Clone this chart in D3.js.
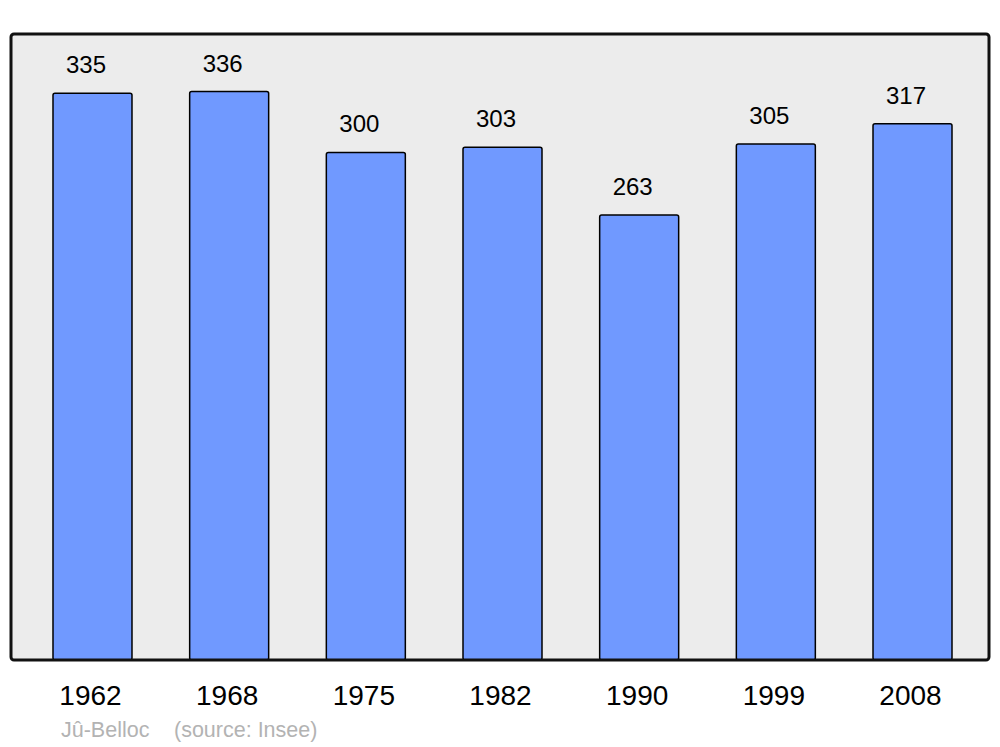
<!DOCTYPE html>
<html>
<head>
<meta charset="utf-8">
<script src="https://cdn.jsdelivr.net/npm/d3@7"></script>
<style>
  html, body { margin: 0; padding: 0; background: #ffffff; }
  svg { display: block; }
</style>
</head>
<body>
<svg id="chart" width="1000" height="747"></svg>
<script>
const years = ["1962", "1968", "1975", "1982", "1990", "1999", "2008"];
const population = [335, 336, 300, 303, 263, 305, 317];
const sourceLabels = ["Jû-Belloc", "(source: Insee)"];

const svg = d3.select("#chart");
const font = "'Liberation Sans', Arial, sans-serif";

const panel = { x0: 11, x1: 989, y0: 34, y1: 660 };

const x = d3.scaleBand()
  .domain(years)
  .range([13.5, 991.5])
  .paddingInner(0.422)
  .paddingOuter(0.289);

const y = d3.scaleLinear()
  .domain([0, 370])
  .range([panel.y1, panel.y0]);

// background panel
svg.append("rect")
  .attr("x", panel.x0)
  .attr("y", panel.y0)
  .attr("width", panel.x1 - panel.x0)
  .attr("height", panel.y1 - panel.y0)
  .attr("rx", 3)
  .attr("fill", "#ececec")
  .attr("stroke", "none");

const data = years.map((yr, i) => ({ year: yr, value: population[i] }));

// bars
svg.append("g").selectAll("rect")
  .data(data)
  .join("rect")
  .attr("x", d => x(d.year))
  .attr("y", d => y(d.value))
  .attr("width", x.bandwidth())
  .attr("height", d => y(0) - y(d.value))
  .attr("rx", 2)
  .attr("fill", "#7099ff")
  .attr("stroke", "#000")
  .attr("stroke-width", 1.5);

// panel border on top
svg.append("rect")
  .attr("x", panel.x0)
  .attr("y", panel.y0)
  .attr("width", panel.x1 - panel.x0)
  .attr("height", panel.y1 - panel.y0)
  .attr("rx", 3)
  .attr("fill", "none")
  .attr("stroke", "#111")
  .attr("stroke-width", 3);

// value labels (slightly left of bar centre, as in the original)
svg.append("g").selectAll("text")
  .data(data)
  .join("text")
  .attr("x", d => x(d.year) + x.bandwidth() / 2 - 6.5)
  .attr("y", d => y(d.value) - 20)
  .attr("text-anchor", "middle")
  .attr("font-family", font)
  .attr("font-size", 24)
  .attr("fill", "#000")
  .text(d => d.value);

// year axis labels
const xAxis = d3.axisBottom(x).tickSize(0).tickPadding(0);
const gx = svg.append("g")
  .attr("transform", `translate(-2, ${panel.y1})`)
  .call(xAxis);
gx.select(".domain").remove();
gx.selectAll("text")
  .attr("y", 45)
  .attr("dy", 0)
  .attr("font-family", font)
  .attr("font-size", 28)
  .attr("fill", "#000");

// source line
svg.append("text")
  .attr("x", 61)
  .attr("y", 737)
  .attr("font-family", font)
  .attr("font-size", 21.5)
  .attr("fill", "#b3b3b3")
  .text(sourceLabels[0]);
svg.append("text")
  .attr("x", 174)
  .attr("y", 737)
  .attr("font-family", font)
  .attr("font-size", 21.5)
  .attr("fill", "#b3b3b3")
  .text(sourceLabels[1]);
</script>
</body>
</html>
